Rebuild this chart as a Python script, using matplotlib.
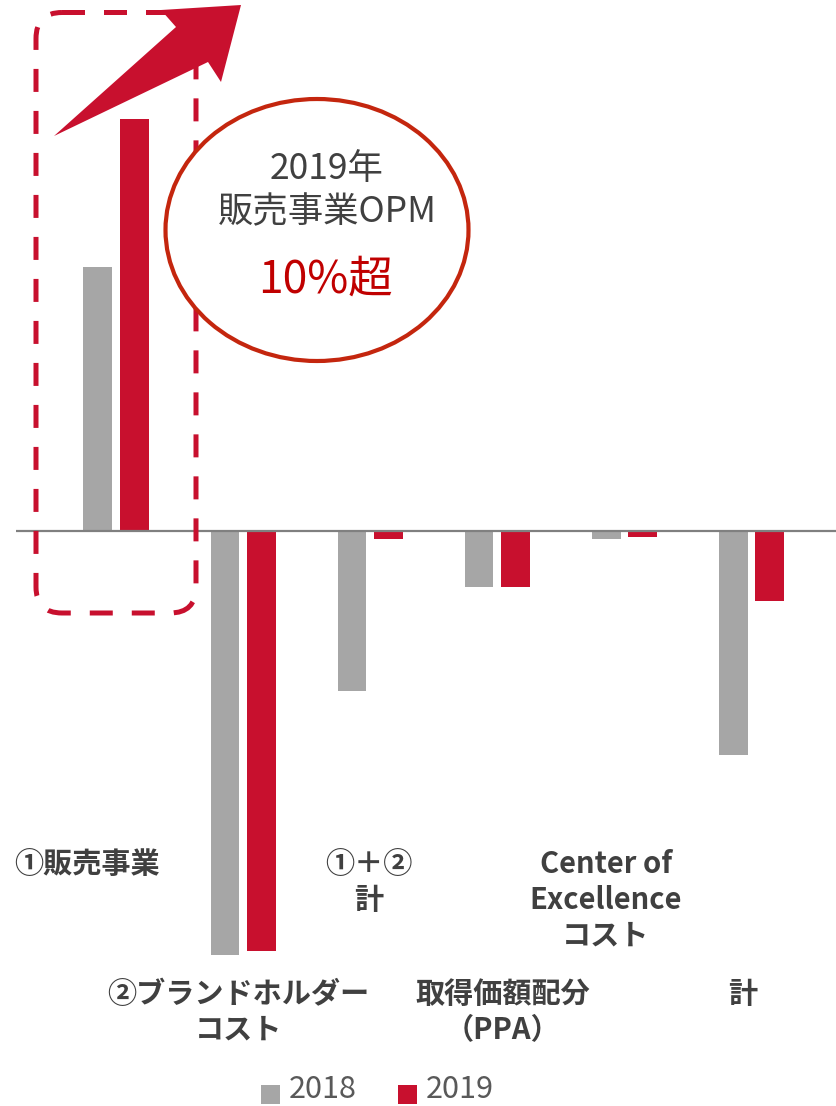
import matplotlib
matplotlib.use("Agg")
import matplotlib.pyplot as plt
import matplotlib.transforms as mtransforms
from matplotlib.patches import FancyBboxPatch, Ellipse, Polygon, Rectangle
import numpy as np

plt.rcParams['font.family'] = ['Noto Sans CJK JP', 'DejaVu Sans']

# ---- data ----
categories = ["①販売事業", "②ブランドホルダー\nコスト", "①＋②\n計",
              "取得価額配分\n（PPA）", "Center of\nExcellence\nコスト", "計"]
series_names = ["2018", "2019"]
values_2018 = [6.6, -10.6, -4.0, -1.4, -0.2, -5.6]
values_2019 = [10.3, -10.5, -0.2, -1.4, -0.15, -1.75]

GRAY = "#A6A6A6"
RED = "#C8102E"
TEXT = "#404040"

W, H = 836, 1106
fig = plt.figure(figsize=(W / 100, H / 100), dpi=100)

# main bar axes: spans full height, baseline sits at y=530 px
left_px = 16
ax = fig.add_axes([left_px / W, 0, 1 - left_px / W, 1])
ax.set_facecolor("none")
x = np.arange(len(categories))
bw = 0.226
off = 0.143
ax.bar(x - off, values_2018, width=bw, color=GRAY, zorder=2)
ax.bar(x + off, values_2019, width=bw, color=RED, zorder=2)
ax.axhline(0, color="#808080", lw=1.6, zorder=3)

px_per_unit = 40.0
base_px = 530.5
ax.set_ylim(-(H - base_px) / px_per_unit, base_px / px_per_unit)
spacing = 127.1
c0 = 116.0
n = len(categories)
ax.set_xlim(-(c0 - left_px) / spacing, (n - 1) + (W - (c0 + (n - 1) * spacing)) / spacing)
ax.axis("off")

# category labels, staggered in two rows
label_dx = [-0.225, -0.04, -0.01, 0.045, -0.145, -0.07]
label_top_px = [849, 979, 849, 979, 849, 979]
lab_tr = mtransforms.blended_transform_factory(ax.transData, fig.transFigure)
for i, lab in enumerate(categories):
    ax.text(x[i] + label_dx[i], 1 - label_top_px[i] / H, lab,
            transform=lab_tr, ha="center", va="top", fontsize=21,
            fontweight="bold", color=TEXT, linespacing=1.25,
            multialignment="center")

# overlay in pixel coordinates for annotations
ov = fig.add_axes([0, 0, 1, 1])
ov.set_xlim(0, W)
ov.set_ylim(H, 0)
ov.axis("off")
ov.set_facecolor("none")

# dashed rounded frame around the first group
frame = FancyBboxPatch((36, 12.5), 160, 600.5,
                       boxstyle="round,pad=0,rounding_size=26",
                       fill=False, edgecolor=RED, lw=3.6,
                       linestyle=(0, (4.6, 3.8)), zorder=3)
ov.add_patch(frame)

# rising arrow
arrow = Polygon([(54, 136), (176, 27), (161, 10), (241, 5),
                 (221, 82), (208, 62)], closed=True,
                facecolor=RED, edgecolor="none", zorder=5)
ov.add_patch(arrow)

# callout ellipse
ell = Ellipse((317, 230), 303, 262, facecolor="white",
              edgecolor="#C4260E", lw=3.0, zorder=4)
ov.add_patch(ell)
ov.text(327, 169, "2019年", ha="center", va="center", fontsize=25.5,
        color=TEXT, zorder=6)
ov.text(327, 212, "販売事業OPM", ha="center", va="center", fontsize=25.5,
        color=TEXT, zorder=6)
ov.text(325, 280, "10%超", ha="center", va="center", fontsize=32,
        color="#C00000", zorder=6)

# legend
legend_items = [(261, GRAY, series_names[0]), (398, RED, series_names[1])]
for lx, col, name in legend_items:
    ov.add_patch(Rectangle((lx, 1085), 19, 19, facecolor=col, edgecolor="none"))
    ov.text(lx + 28, 1089, name, ha="left", va="center", fontsize=22,
            color="#595959")

fig.savefig("out.png", dpi=100)
